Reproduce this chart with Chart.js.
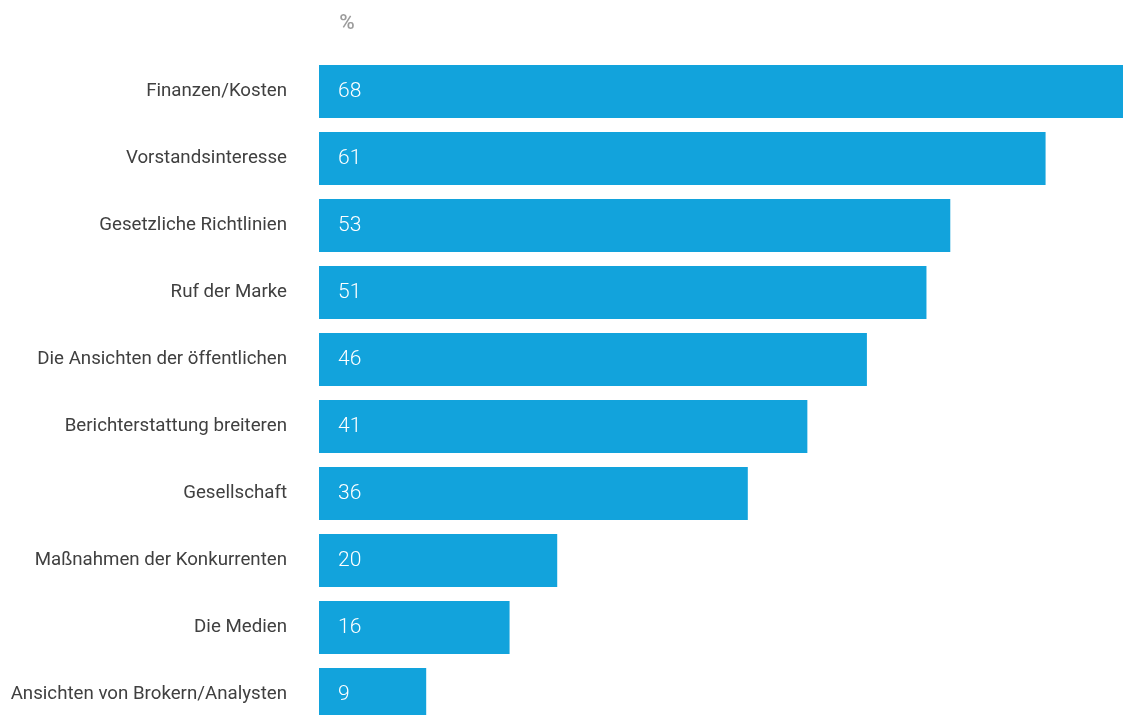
<!DOCTYPE html>
<html lang="en">
<head>
  <meta charset="UTF-8" />
  <title>Einflussfaktoren</title>
  <script src="https://cdn.jsdelivr.net/npm/chart.js"></script>
  <style>
    html, body {
      margin: 0;
      padding: 0;
      background: #fff;
      overflow: hidden;
    }
    canvas { display: block; }
  </style>
</head>
<body>
  <canvas id="chart" width="1123" height="728"></canvas>
  <script>
    const categories = [
      'Finanzen/Kosten',
      'Vorstandsinteresse',
      'Gesetzliche Richtlinien',
      'Ruf der Marke',
      'Die Ansichten der öffentlichen',
      'Berichterstattung breiteren',
      'Gesellschaft',
      'Maßnahmen der Konkurrenten',
      'Die Medien',
      'Ansichten von Brokern/Analysten'
    ];
    const values = [68, 61, 53, 51, 46, 41, 36, 20, 16, 9];
    const unitLabel = '%';

    const FONT = 'Roboto, "Open Sans", sans-serif';

    // value inside each bar + the "%" marker above the axis
    const barText = {
      id: 'barText',
      afterDatasetsDraw(chart) {
        const ctx = chart.ctx;
        const meta = chart.getDatasetMeta(0);
        ctx.save();
        ctx.fillStyle = '#ffffff';
        ctx.font = '300 21px ' + FONT;
        ctx.textAlign = 'left';
        ctx.textBaseline = 'middle';
        meta.data.forEach((bar, i) => {
          ctx.fillText(values[i], bar.base + 19, bar.y);
        });
        ctx.fillStyle = '#9c9c9c';
        ctx.font = '500 21px ' + FONT;
        ctx.textAlign = 'center';
        ctx.fillText(unitLabel, chart.chartArea.left + 28, 24);
        ctx.restore();
      }
    };

    new Chart(document.getElementById('chart'), {
      type: 'bar',
      data: {
        labels: categories,
        datasets: [{
          data: values,
          backgroundColor: '#12a3dc',
          borderWidth: 0,
          barPercentage: 0.79,
          categoryPercentage: 1
        }]
      },
      options: {
        indexAxis: 'y',
        responsive: false,
        animation: false,
        layout: { padding: { top: 58, left: 0, right: 0, bottom: 0 } },
        plugins: {
          legend: { display: false },
          tooltip: { enabled: false }
        },
        scales: {
          x: {
            display: false,
            min: 0,
            max: 67.5
          },
          y: {
            grid: { display: false, drawTicks: false },
            border: { display: false },
            ticks: {
              padding: 32,
              color: '#404040',
              font: { family: FONT, size: 18.7, weight: '400' }
            },
            afterFit(scale) {
              scale.width = 319;
              scale.paddingTop = 0;
              scale.paddingBottom = 0;
            }
          }
        }
      },
      plugins: [barText]
    });
  </script>
</body>
</html>
